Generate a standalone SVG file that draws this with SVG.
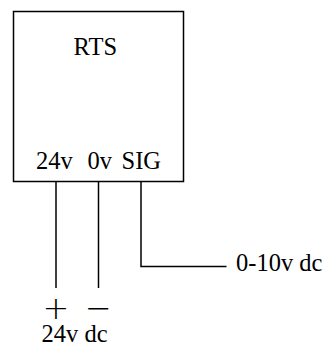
<svg xmlns="http://www.w3.org/2000/svg" width="323" height="345" viewBox="0 0 323 345">
<style>
.l{fill:none;stroke:#000;stroke-width:1.5}
text{font-family:"Liberation Serif","Times New Roman",serif;font-size:24.500px;fill:#000}
.m{text-anchor:middle}
.s{font-family:"DejaVu Sans",sans-serif;font-weight:200;font-size:32px}
</style>
<rect width="323" height="345" fill="#fff"/>
<g id="connectors">
<path class="l" d="M56 181.5V288"/>
<path class="l" d="M98.500 181.500V288"/>
<path class="l" d="M141 181.500V266.500H226.500"/>
</g>
<g id="rts">
<rect class="l" x="13.500" y="11.500" width="170" height="170"/>
<text class="m" x="95.300" y="55">RTS</text>
<text x="36" y="169">24v</text>
<text x="87.500" y="169">0v</text>
<text x="121.500" y="169">SIG</text>
</g>
<g id="supply">
<text class="s m" x="56" y="319">+</text>
<text class="s m" x="98.500" y="319">−</text>
<text x="41.500" y="341.500">24v dc</text>
</g>
<g id="signal">
<text x="236" y="270.500">0-10v dc</text>
</g>
</svg>
